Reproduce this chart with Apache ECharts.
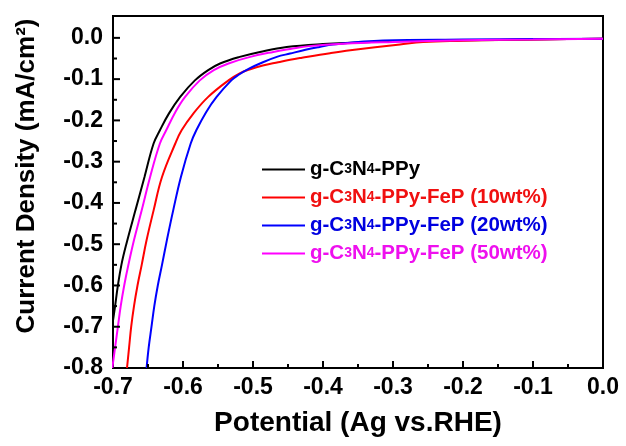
<!DOCTYPE html>
<html>
<head>
<meta charset="utf-8">
<script src="https://cdn.jsdelivr.net/npm/echarts@6/dist/echarts.min.js"></script>
<style>
html,body{margin:0;padding:0;background:#fff;}
#chart{width:626px;height:446px;}
</style>
</head>
<body>
<div id="chart"></div>
<script>
// Series names
const seriesNames = ['g-C3N4-PPy', 'g-C3N4-PPy-FeP (10wt%)', 'g-C3N4-PPy-FeP (20wt%)', 'g-C3N4-PPy-FeP (50wt%)'];
const seriesColors = ['#000000', '#ff0000', '#0000ff', '#ff00ff'];
const legendTextColors = ['#000000', '#f01010', '#0000e0', '#ee10ee'];

// g-C3N4-PPy (black)
const blackX = [-0.703, -0.701, -0.697, -0.693, -0.688, -0.681, -0.668, -0.655, -0.642, -0.633, -0.620, -0.604, -0.583, -0.564, -0.547, -0.519, -0.490, -0.452, -0.400, -0.330, -0.250, -0.150, -0.050, 0.000];
const blackY = [-0.75, -0.70, -0.65, -0.60, -0.55, -0.50, -0.418, -0.337, -0.256, -0.224, -0.183, -0.143, -0.103, -0.078, -0.062, -0.046, -0.034, -0.022, -0.015, -0.010, -0.007, -0.005, -0.003, -0.002];

// g-C3N4-PPy-FeP (10wt%) (red)
const redX = [-0.680, -0.677, -0.674, -0.670, -0.665, -0.659, -0.652, -0.642, -0.630, -0.611, -0.602, -0.585, -0.564, -0.535, -0.519, -0.504, -0.486, -0.464, -0.447, -0.430, -0.390, -0.361, -0.290, -0.257, -0.200, -0.147, -0.050, 0.000];
const redY = [-0.80, -0.75, -0.70, -0.65, -0.60, -0.55, -0.49, -0.418, -0.337, -0.256, -0.224, -0.183, -0.143, -0.103, -0.086, -0.076, -0.067, -0.059, -0.053, -0.048, -0.037, -0.030, -0.016, -0.010, -0.007, -0.005, -0.003, -0.002];

// g-C3N4-PPy-FeP (20wt%) (blue)
const blueX = [-0.652, -0.649, -0.645, -0.641, -0.636, -0.630, -0.623, -0.614, -0.603, -0.589, -0.581, -0.567, -0.552, -0.531, -0.521, -0.505, -0.490, -0.466, -0.447, -0.425, -0.405, -0.386, -0.314, -0.200, -0.100, 0.000];
const blueY = [-0.80, -0.75, -0.70, -0.65, -0.60, -0.55, -0.49, -0.418, -0.337, -0.256, -0.224, -0.180, -0.143, -0.103, -0.090, -0.074, -0.062, -0.046, -0.038, -0.029, -0.022, -0.016, -0.0065, -0.004, -0.003, -0.002];

// g-C3N4-PPy-FeP (50wt%) (magenta)
const magentaX = [-0.701, -0.697, -0.693, -0.689, -0.684, -0.678, -0.670, -0.659, -0.647, -0.633, -0.624, -0.611, -0.597, -0.576, -0.556, -0.535, -0.504, -0.471, -0.447, -0.420, -0.370, -0.300, -0.200, -0.100, 0.000];
const magentaY = [-0.80, -0.75, -0.70, -0.65, -0.60, -0.55, -0.49, -0.418, -0.337, -0.256, -0.224, -0.180, -0.143, -0.103, -0.078, -0.062, -0.046, -0.034, -0.027, -0.020, -0.014, -0.010, -0.006, -0.004, -0.002];

// Axis ticks
const xMin = -0.7, xMax = 0.0, xStep = 0.1;
const yMin = -0.8, yMax = 0.053, yStep = 0.1;
const xMajorTicks = [-0.6, -0.5, -0.4, -0.3, -0.2, -0.1];
const xMinorTicks = [-0.65, -0.55, -0.45, -0.35, -0.25, -0.15, -0.05];
const yMajorTicks = [-0.7, -0.6, -0.5, -0.4, -0.3, -0.2, -0.1, 0.0];
const yMinorTicks = [-0.75, -0.65, -0.55, -0.45, -0.35, -0.25, -0.15, -0.05];

const xName = 'Potential (Ag vs.RHE)';
const yName = 'Current Density (mA/cm\u00B2)';

const FONT = '"Liberation Sans", Arial, sans-serif';

function zip(xs, ys) { return xs.map((x, i) => [x, ys[i]]); }
const seriesData = [zip(blackX, blackY), zip(redX, redY), zip(blueX, blueY), zip(magentaX, magentaY)];

const W = 626, H = 446;
const gridRect = {left: 113, right: 23, top: 16, bottom: 78};
const plotW = W - gridRect.left - gridRect.right;
const plotH = H - gridRect.top - gridRect.bottom;
const xPerPx = (xMax - xMin) / plotW;
const yPerPx = (yMax - yMin) / plotH;
const MAJOR_LEN = 7, MINOR_LEN = 4;

// each tick mark is a tiny line series placed on the axis scale
function tickLines(values, dim, lenPx) {
  return values.map(v => ({
    type: 'line', silent: true, clip: false, z: 5,
    showSymbol: false, symbol: 'none', animation: false,
    data: dim === 'x'
      ? [[v, yMin], [v, yMin + lenPx * yPerPx]]
      : [[xMin, v], [xMin + lenPx * xPerPx, v]],
    lineStyle: {color: '#000', width: 2, cap: 'butt'},
    itemStyle: {color: '#000'},
    tooltip: {show: false}
  }));
}

const chart = echarts.init(document.getElementById('chart'), null, {renderer: 'canvas'});

const axisLineStyle = {color: '#000', width: 2};
const option = {
  animation: false,
  backgroundColor: '#ffffff',
  grid: Object.assign({show: true, borderColor: '#000', borderWidth: 2, backgroundColor: 'transparent'}, gridRect),
  legend: {
    orient: 'vertical',
    left: 257, top: 154,
    itemWidth: 43, itemHeight: 12, itemGap: 7,
    icon: 'path://M0,0 L43,0 L43,2 L0,2 Z',
    textStyle: {
      fontFamily: FONT, fontWeight: 'bold', fontSize: 20.5,
      rich: {
        s: {fontFamily: FONT, fontWeight: 'bold', fontSize: 14}
      }
    },
    formatter: function (name) { return name.replace('C3N4', 'C{s|3}N{s|4}'); },
    data: seriesNames.map((n, i) => ({name: n, textStyle: {color: legendTextColors[i]}, itemStyle: {color: seriesColors[i]}}))
  },
  xAxis: {
    type: 'value', min: xMin, max: xMax, interval: xStep, position: 'bottom',
    name: xName, nameLocation: 'middle', nameGap: 41,
    nameTextStyle: {fontFamily: FONT, fontWeight: 'bold', fontSize: 28, color: '#000'},
    axisLine: {show: true, onZero: false, lineStyle: axisLineStyle},
    axisTick: {show: false},
    axisLabel: {fontFamily: FONT, fontWeight: 'bold', fontSize: 23, color: '#000', margin: 8,
      formatter: v => v.toFixed(1)},
    splitLine: {show: false}
  },
  yAxis: {
    type: 'value', min: yMin, max: yMax, interval: yStep, position: 'left',
    name: yName, nameLocation: 'middle', nameGap: 73, nameRotate: 90,
    nameTextStyle: {fontFamily: FONT, fontWeight: 'bold', fontSize: 26, color: '#000', padding: [0, 0, 0, 32]},
    axisLine: {show: true, onZero: false, lineStyle: axisLineStyle},
    axisTick: {show: false},
    axisLabel: {fontFamily: FONT, fontWeight: 'bold', fontSize: 23, color: '#000', margin: 10,
      showMaxLabel: false, formatter: v => v.toFixed(1)},
    splitLine: {show: false}
  },
  series: [0, 1, 2, 3].map(i => ({
    name: seriesNames[i], type: 'line', data: seriesData[i],
    showSymbol: false, symbol: 'none', smooth: 0.4, clip: true,
    lineStyle: {color: seriesColors[i], width: 2},
    itemStyle: {color: seriesColors[i]}
  })).concat(
    tickLines(xMajorTicks, 'x', MAJOR_LEN),
    tickLines(xMinorTicks, 'x', MINOR_LEN),
    tickLines(yMajorTicks, 'y', MAJOR_LEN),
    tickLines(yMinorTicks, 'y', MINOR_LEN)
  )
};
chart.setOption(option);
</script>
</body>
</html>
